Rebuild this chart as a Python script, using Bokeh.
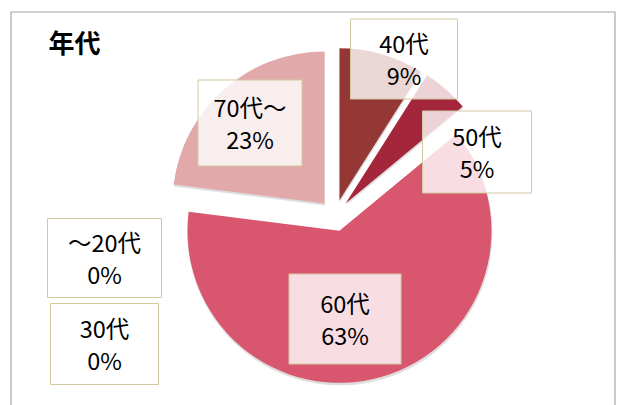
import math
from bokeh.plotting import figure
from bokeh.models import Range1d, ColumnDataSource
from bokeh.embed import file_html
from bokeh.resources import INLINE
from bokeh.core.properties import value

# ---- data ----
title = "年代"
categories = ["～20代", "30代", "40代", "50代", "60代", "70代～"]
shares = [0, 0, 9, 5, 63, 23]
colors = ["#4f81bd", "#c0504d", "#953735", "#a3263a", "#d9566f", "#e1a9aa"]

# ---- layout (page pixel units) ----
W, H = 617, 405
CX, CY, R, EXPLODE = 334.5, 215.0, 152.0, 16.0
label_x = [104, 104, 403.5, 476.5, 344.5, 249.5]
label_y = [257.5, 343.5, 58.5, 151.5, 318.5, 122.5]
label_w = [114, 108, 107, 109, 112, 104]
label_h = [79, 81, 80, 82, 90, 86]

p = figure(width=W, height=H, output_backend="svg", toolbar_location=None,
           x_range=Range1d(0, W), y_range=Range1d(-H, 0),
           x_axis_type=None, y_axis_type=None, min_border=0)
p.grid.visible = False
p.outline_line_color = None
p.background_fill_color = "white"
p.border_fill_color = "white"

# chart frame
p.line(x=[10.5, 10.5, 614.5, 614.5], y=[-(H + 5), -11.5, -11.5, -(H + 5)],
       line_color="#a6a6a6", line_width=1.2)

# slices
total = float(sum(shares))
wx, wy, ws, we, wc = [], [], [], [], []
cum = 0.0
for v, c in zip(shares, colors):
    t0 = cum / total * 2 * math.pi
    t1 = (cum + v) / total * 2 * math.pi
    cum += v
    if v <= 0:
        continue
    mid = (t0 + t1) / 2
    wx.append(CX + EXPLODE * math.sin(mid))
    wy.append(-CY + EXPLODE * math.cos(mid))
    ws.append(math.pi / 2 - t1)
    we.append(math.pi / 2 - t0)
    wc.append(c)

src = ColumnDataSource(dict(x=wx, y=wy, s=ws, e=we, c=wc))
shadow = ColumnDataSource(dict(x=[x + 0.5 for x in wx], y=[y - 2.0 for y in wy], s=ws, e=we))
p.wedge(x="x", y="y", radius=R + 0.5, start_angle="s", end_angle="e", source=shadow,
        fill_color="#000000", fill_alpha=0.13, line_color=None)
p.wedge(x="x", y="y", radius=R, start_angle="s", end_angle="e", source=src,
        fill_color="c", line_color=None)

# data labels
texts = [f"{c}\n{v}%" for c, v in zip(categories, shares)]
lab = ColumnDataSource(dict(x=label_x, y=[-y for y in label_y], w=label_w, h=label_h, t=texts))
p.rect(x="x", y="y", width="w", height="h", source=lab,
       fill_color="white", fill_alpha=0.8, line_color="#d2c9a0", line_width=1)
p.text(x="x", y="y", text="t", source=lab, text_font=value("Noto Sans CJK JP"),
       text_font_size="23.5px", text_align="center", text_baseline="middle",
       text_line_height=0.92, text_color="black")

# title
p.text(x=[48], y=[-41], text=[title], text_font=value("Noto Sans CJK JP"),
       text_font_size="26px", text_font_style="bold", text_align="left",
       text_baseline="middle", text_color="black")

open("out.html", "w").write(file_html(p, INLINE))
